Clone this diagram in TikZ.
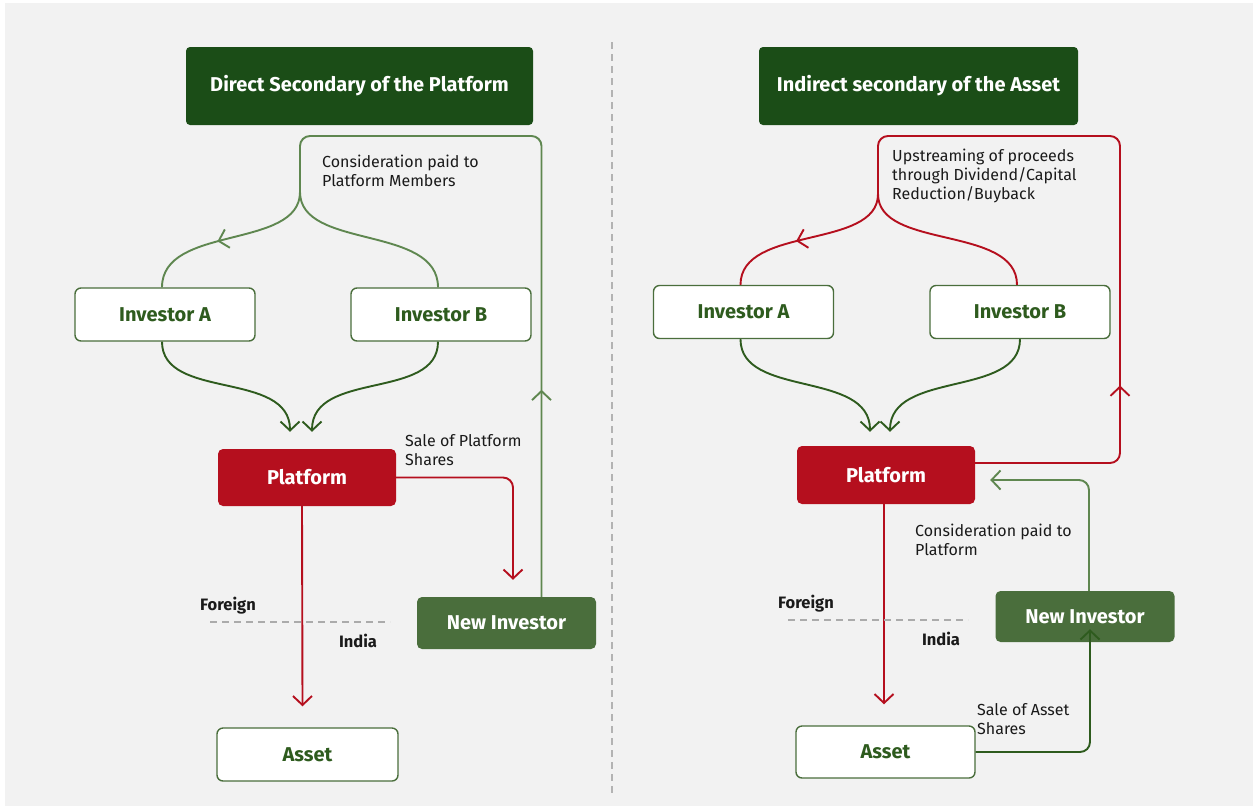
\documentclass[tikz,border=0pt]{standalone}
\usepackage{fontspec}
\setmainfont{Fira Sans}
\usetikzlibrary{arrows.meta,decorations.markings}
\definecolor{bgc}{HTML}{F2F2F2}
\definecolor{titlegreen}{HTML}{1B4D17}
\definecolor{textgreen}{HTML}{2E5B1E}
\definecolor{boxgreen}{HTML}{4A6E3C}
\definecolor{lightline}{HTML}{5F8750}
\definecolor{darkline}{HTML}{2E5B1E}
\definecolor{redc}{HTML}{B50F1E}
\definecolor{labc}{HTML}{1A1A1A}
\definecolor{dashc}{HTML}{ABABAB}
\tikzset{
  barb/.tip={Straight Barb[length=9pt,width=19pt,line width=1.9pt]},
  titlebox/.style={fill=titlegreen, rounded corners=4pt, minimum width=347pt, minimum height=78pt, text=white, font=\bfseries\fontsize{20}{24}\selectfont, inner sep=0pt},
  wbox/.style={fill=white, draw=boxgreen, line width=1.4pt, rounded corners=6pt, minimum width=180pt, minimum height=53pt, text=textgreen, font=\bfseries\fontsize{20}{24}\selectfont, inner sep=0pt},
  redbox/.style={fill=redc, rounded corners=5pt, minimum width=178pt, minimum height=57pt, text=white, font=\bfseries\fontsize{20}{24}\selectfont, inner sep=0pt},
  gbox/.style={fill=boxgreen, rounded corners=5pt, minimum width=179pt, minimum height=52pt, text=white, font=\bfseries\fontsize{20}{24}\selectfont, inner sep=0pt},
  lab/.style={anchor=north west, align=left, inner sep=0pt, text=labc, font=\fontsize{16}{19}\selectfont},
  reg/.style={inner sep=0pt, text=labc, font=\bfseries\fontsize{16.5}{19}\selectfont},
  conn/.style={line width=1.9pt, rounded corners=10pt},
  midarrow/.style={postaction={decorate}, decoration={markings, mark=at position #1 with {\arrow{barb}}}},
  dashline/.style={draw=dashc, line width=1.3pt, dash pattern=on 7pt off 5pt},
}
\begin{document}
\begin{tikzpicture}[x=1pt,y=-1pt]
\useasboundingbox (0,0) rectangle (1253,807);
\fill[white] (0,0) rectangle (1253,807);
\fill[bgc] (5,3) rectangle (1253,806);
\draw[dashline, draw=dashc!90] (612,42) -- (612,797);

% ---------------- left panel ----------------
\node[titlebox] (t1) at (359.5,86) {Direct Secondary of the Platform};
\node[wbox] (ia1) at (165,314.5) {Investor A};
\node[wbox] (ib1) at (441,314.5) {Investor B};
\node[redbox] (p1) at (307,477.5) {Platform};
\node[gbox] (n1) at (506.5,623) {New Investor};
\node[wbox, minimum width=181pt] (a1) at (307.5,754.5) {Asset};
\coordinate (j1) at (300,192);

\draw[conn, lightline, midarrow=207pt] ([xshift=35pt]n1.north) -- (541.5,136) -- (300,136) -- (j1);
\draw[conn, lightline, midarrow=0.57] (j1) .. controls +(0,58) and +(0,-63) .. ([xshift=-3pt]ia1.north);
\draw[conn, lightline] (j1) .. controls +(0,58) and +(0,-63) .. ([xshift=-3pt]ib1.north);

\draw[conn, darkline, -barb] ([xshift=-3pt]ia1.south) .. controls +(0,59) and +(0,-62) .. ([shift={(-17,-17)}]p1.north);
\draw[conn, darkline, -barb] ([xshift=-3pt]ib1.south) .. controls +(0,59) and +(0,-62) .. ([shift={(5,-17)}]p1.north);

\draw[conn, redc, -barb] (p1.east) -| ([shift={(6.5,-17)}]n1.north);
\draw[conn, redc, -barb] ([xshift=-5pt]p1.south) -- ([shift={(-5,-21)}]a1.north);

\draw[dashline] (210,622) -- (390,622);
\node[reg] (f1) at (228,606) {Foreign};
\node[reg] (in1) at (358,641) {India};
\node[lab] (l1) at (322,155) {Consideration paid to\\Platform Members};
\node[lab] (l2) at (405,434) {Sale of Platform\\Shares};

% ---------------- right panel ----------------
\node[titlebox, minimum width=319pt] (t2) at (918.5,86) {Indirect secondary of the Asset};
\node[wbox] (ia2) at (743.5,312) {Investor A};
\node[wbox] (ib2) at (1020,312) {Investor B};
\node[redbox, minimum height=58pt] (p2) at (886,475) {Platform};
\node[gbox, minimum height=51pt] (n2) at (1085,616.5) {New Investor};
\node[wbox, minimum width=179pt, minimum height=52pt] (a2) at (885.5,752) {Asset};
\coordinate (j2) at (878,194);

\draw[conn, redc, midarrow=218pt] ([shift={(0,-12)}]p2.east) -- (1120,463) -- (1120,136) -- (878,136) -- (j2);
\draw[conn, redc, midarrow=0.57] (j2) .. controls +(0,56) and +(0,-60) .. ([xshift=-3pt]ia2.north);
\draw[conn, redc] (j2) .. controls +(0,56) and +(0,-60) .. ([xshift=-3pt]ib2.north);

\draw[conn, darkline, -barb] ([xshift=-3pt]ia2.south) .. controls +(0,59) and +(0,-62) .. ([shift={(-16,-14)}]p2.north);
\draw[conn, darkline, -barb] (ib2.south) .. controls +(0,59) and +(0,-62) .. ([shift={(4,-14)}]p2.north);

\draw[conn, lightline, -barb] ([xshift=4pt]n2.north) |- ([shift={(15,5)}]p2.east);
\draw[conn, redc, -barb] ([xshift=-2pt]p2.south) -- ([shift={(-1.5,-21)}]a2.north);
\draw[conn, darkline, -barb] (a2.east) -| ([shift={(5,-13)}]n2.south);

\draw[dashline] (788,620) -- (968,620);
\node[reg] (f2) at (806,604) {Foreign};
\node[reg] (in2) at (941,639) {India};
\node[lab] (l3) at (892,149) {Upstreaming of proceeds\\through Dividend/Capital\\Reduction/Buyback};
\node[lab] (l4) at (915,524) {Consideration paid to\\Platform};
\node[lab] (l5) at (977,703) {Sale of Asset\\Shares};
\end{tikzpicture}
\end{document}
